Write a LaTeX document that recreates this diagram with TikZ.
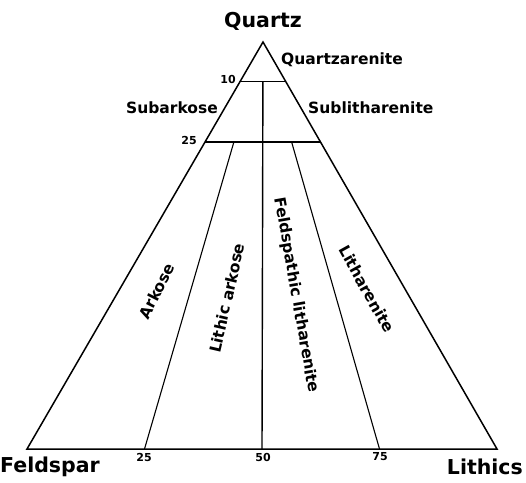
\documentclass[tikz,border=0pt]{standalone}
\usepackage{fontspec}
\setmainfont{DejaVu Sans}
\usetikzlibrary{calc}
\begin{document}
\begin{tikzpicture}[x=1pt,y=-1pt,
  outline/.style={line width=1.5pt,line join=miter},
  divider/.style={line width=1.4pt},
  inner/.style={line width=1.1pt},
  corner/.style={font=\bfseries\fontsize{20.5}{22}\selectfont,inner sep=0pt},
  field/.style={font=\bfseries\fontsize{15.5}{17}\selectfont,inner sep=0pt},
  slant/.style={font=\bfseries\fontsize{15.5}{17}\selectfont,inner sep=0pt},
  tick/.style={font=\bfseries\fontsize{11}{12}\selectfont,inner sep=0pt}]
\useasboundingbox (0,0) rectangle (526,482);
\coordinate (A) at (263,42);
\coordinate (F) at (27,449);
\coordinate (L) at (497,449);
\coordinate (Ta) at ($(A)!0.097!(F)$);
\coordinate (Tb) at ($(A)!0.097!(L)$);
\coordinate (Qa) at ($(A)!0.246!(F)$);
\coordinate (Qb) at ($(A)!0.246!(L)$);
\coordinate (Tm) at ($(Ta)!0.5!(Tb)$);
\coordinate (Q1) at ($(Qa)!0.25!(Qb)$);
\coordinate (Q3) at ($(Qa)!0.75!(Qb)$);
\coordinate (B1) at ($(F)!0.25!(L)$);
\coordinate (B2) at ($(F)!0.5!(L)$);
\coordinate (B3) at ($(F)!0.75!(L)$);
\draw[outline] (A) -- (F) -- (L) -- cycle;
\draw[divider] (Ta) -- (Tb);
\draw[divider] (Qa) -- (Qb);
\draw[divider] (Tm) -- (B2);
\draw[inner] (Q1) -- (B1);
\draw[inner] (Q3) -- (B3);
\node[corner] (quartz) at (263,21) {Quartz};
\node[corner,anchor=west] (feld) at (0,467) {Feldspar};
\node[corner,anchor=east] (lith) at (523,467) {Lithics};
\node[field,anchor=west] (qa) at (281,60) {Quartzarenite};
\node[field,anchor=east] (sa) at (218,108) {Subarkose};
\node[field,anchor=west] (sl) at (308,108) {Sublitharenite};
\node[slant,rotate=63] (ark) at (157,291) {Arkose};
\node[slant,rotate=77] (lark) at (227,298) {Lithic arkose};
\node[slant,rotate=-80] (flit) at (296,295) {Feldspathic litharenite};
\node[slant,rotate=-61] (lit) at (367,289) {Litharenite};
\node[tick,anchor=east] (t10) at (236,79) {10};
\node[tick,anchor=east] (t25) at (197,140) {25};
\node[tick] (b25) at (144,457) {25};
\node[tick] (b50) at (263,457) {50};
\node[tick] (b75) at (380,457) {75};
\end{tikzpicture}
\end{document}
